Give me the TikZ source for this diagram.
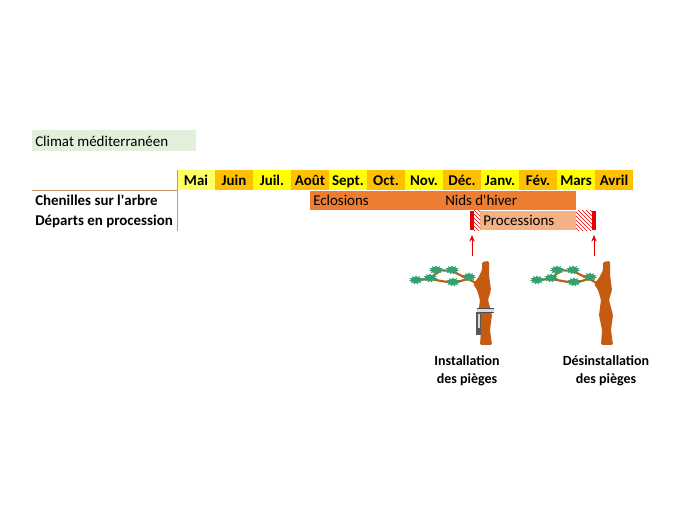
\documentclass[tikz,border=0pt]{standalone}
\usepackage{fontspec}
\setmainfont{Carlito}
\usetikzlibrary{shapes.geometric,arrows.meta,patterns}
\definecolor{maijaune}{HTML}{FFFF66}
\definecolor{moisjaune}{HTML}{FFFF00}
\definecolor{moisorange}{HTML}{FFC000}
\definecolor{eclos}{HTML}{ED7D31}
\definecolor{proc}{HTML}{F4B183}
\definecolor{climat}{HTML}{E2EFDA}
\definecolor{trait}{HTML}{C9956A}
\definecolor{tronc}{HTML}{C55A11}
\definecolor{aiguilles}{HTML}{33A06F}
\definecolor{rouge}{HTML}{E60000}
\tikzset{
  texte/.style={font=\fontsize{11.2}{13.5}\selectfont, inner sep=0pt, text=black},
  gras/.style={texte, font=\fontsize{11.2}{13.5}\selectfont\bfseries},
  legende/.style={texte, font=\fontsize{10.5}{13.5}\selectfont\bfseries, align=center},
  hachure/.style={pattern=north west lines, pattern color=rouge},
  fleche/.style={-{Stealth[length=5pt,width=4pt]}, rouge, line width=0.6pt},
  touffe/.style={star, star points=11, star point ratio=1.6, fill=aiguilles,
    minimum size=6.8pt, inner sep=0pt, xscale=1.6},
  pin/.pic={
    \fill[tronc, rounded corners=1pt] (0,0) -- (7,-1) -- (7,13) -- (9,28) -- (6,38)
      -- (10,53) -- (8,68) -- (10,83) -- (-2,83) -- (-1,68) -- (-4,53) -- (-2,38)
      -- (-5,28) -- (-9,22) -- (-4,16) -- (0,8) -- cycle;
    \draw[tronc, line width=1.6pt, line cap=round] (-6,21) -- (-14,17) -- (-29,21)
      -- (-52,17) -- (-66,18);
    \draw[tronc, line width=1.6pt, line cap=round] (-14,17) -- (-30,9) -- (-46,8);
    \draw[tronc, line width=1.2pt, line cap=round] (-40,8) -- (-52,16);
    \foreach \p in {(-13,15),(-29,20),(-30,8),(-46,8),(-52,16),(-66,18)}
      \node[touffe] at \p {};
  }
}
\begin{document}
\begin{tikzpicture}[x=0.75pt,y=-0.75pt]
\useasboundingbox (0,0) rectangle (700,520);
\fill[climat] (32,130) rectangle (196,151);
\node[texte, anchor=base west] (climat) at (35,146.5) {Climat méditerranéen};
\foreach \m/\c [count=\i] in {Mai/maijaune,Juin/moisorange,Juil./moisjaune,
  Août/moisorange,Sept./moisjaune,Oct./moisorange,Nov./moisjaune,Déc./moisorange,
  Janv./moisjaune,Fév./moisorange,Mars/moisjaune,Avril/moisorange}{
  \pgfmathsetmacro\xa{177+38*(\i-1)}
  \path[fill=\c] (\xa,170) rectangle ++(38,20);
  \node[gras, anchor=base] (m\i) at (\xa+19,185.5) {\m};
}
\draw[trait] (32,190.5) -- (177,190.5);
\draw[trait] (177,170) -- (177,231);
\node[gras, anchor=base west] (chenilles) at (35,205.5) {Chenilles sur l\textquotesingle arbre};
\node[gras, anchor=base west] (departs) at (35,226) {Départs en procession};
\fill[eclos] (310,191) rectangle (576,210.5);
\node[texte, anchor=base west] (eclosions) at (313,205.5) {Eclosions};
\node[texte, anchor=base west] (nids) at (445,205.5) {Nids d\textquotesingle hiver};
\fill[proc] (480,211) rectangle (576,230.5);
\fill[hachure] (474,211) rectangle (480,230.5);
\fill[hachure] (576,211) rectangle (592,230.5);
\fill[rouge] (470,211) rectangle (474,230.5);
\fill[rouge] (592,211) rectangle (596,230.5);
\node[texte, anchor=base west] (processions) at (483,225.5) {Processions};
\coordinate (pose) at (472,235);
\coordinate (depose) at (594,235);
\coordinate (flpose) at (472,256);
\coordinate (fldepose) at (594,256);
\draw[fleche] (flpose) -- (pose);
\draw[fleche] (fldepose) -- (depose);
\pic at (482,262) {pin};
\pic at (603,262) {pin};
\fill[gray!30] (477,308) rectangle (494,312);
\draw[gray!60!black, line width=0.6pt] (477,308) -- (494,308) (477,312) -- (494,312);
\fill[gray!70!black] (476,312) rectangle (481,335);
\fill[gray!30] (478,314) rectangle (479.5,328);
\node[legende] (installation) at (467,371) {Installation\\des pièges};
\node[legende] (desinstallation) at (606,371) {Désinstallation\\des pièges};
\end{tikzpicture}
\end{document}
